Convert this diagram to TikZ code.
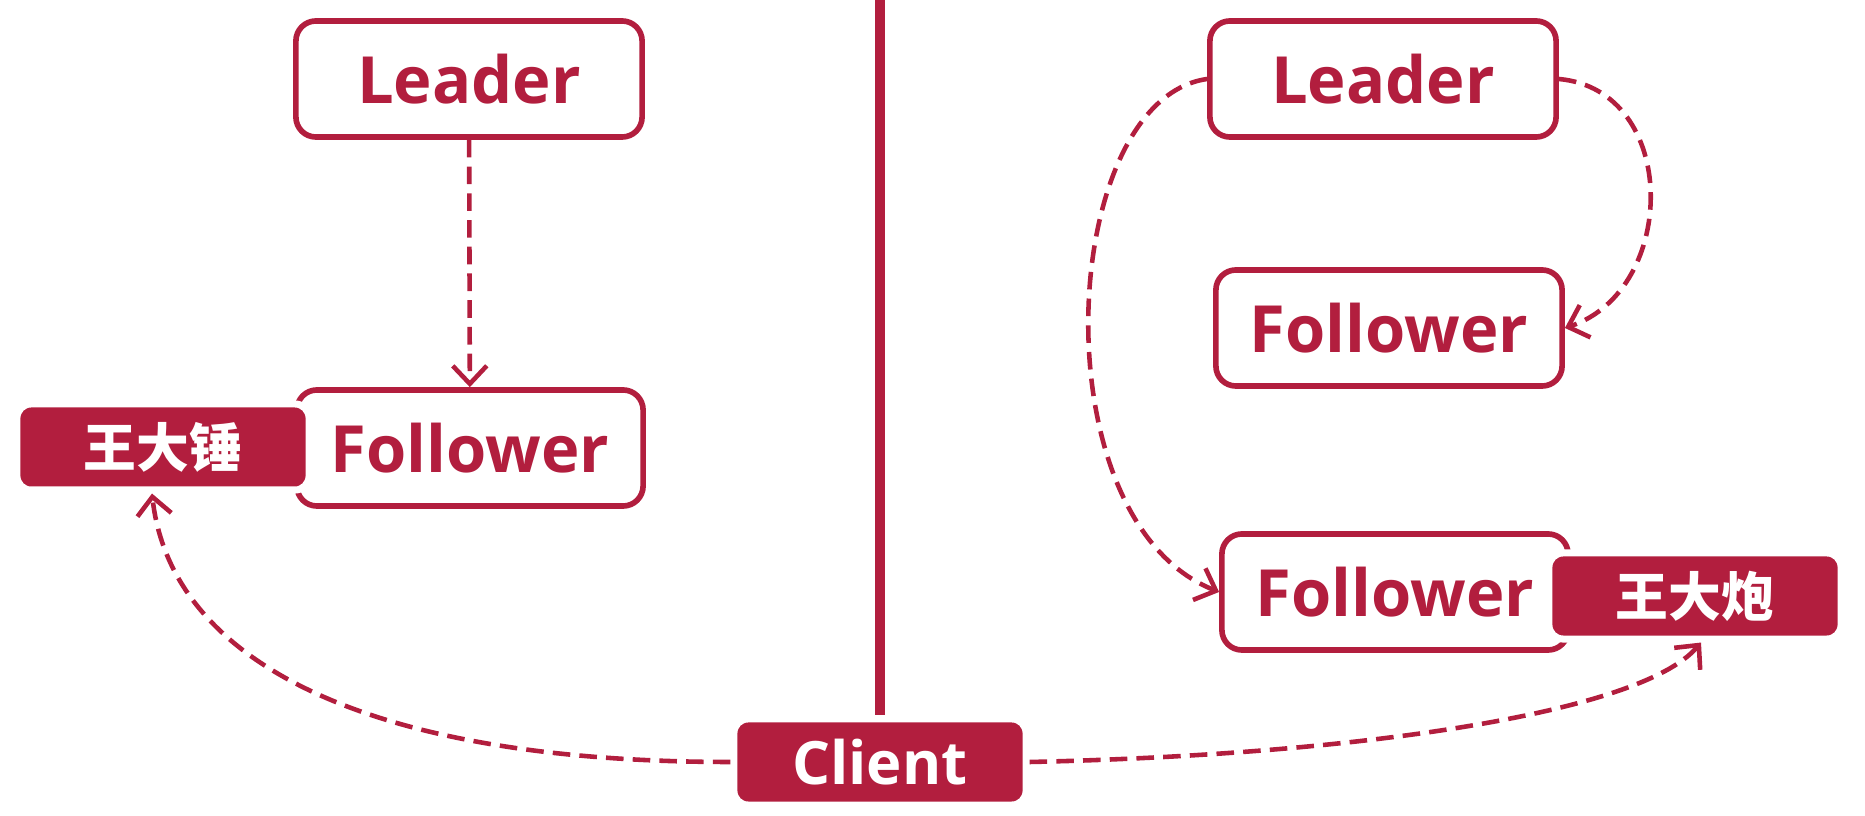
\documentclass[tikz,border=0pt]{standalone}
\usepackage{fontspec}
\setmainfont{Open Sans}
\newfontfamily\cjk{Noto Sans CJK SC}[BoldFont={Noto Sans CJK SC Black}]
\usetikzlibrary{arrows.meta,shadows}
\definecolor{crimson}{RGB}{178,30,62}

\begin{document}
\begin{tikzpicture}[x=0.01cm,y=-0.01cm,
  box/.style={draw=crimson,line width=1.6pt,fill=white,rounded corners=0.2cm,
    minimum width=3.46cm,minimum height=1.16cm,inner sep=0pt,text=crimson,
    font=\fontsize{18.5}{20}\selectfont\bfseries},
  tag/.style={draw=white,line width=2pt,fill=crimson,rounded corners=0.14cm,
    minimum width=2.92cm,minimum height=0.86cm,inner sep=0pt,text=white,
    drop shadow={opacity=0.18,shadow xshift=0.02cm,shadow yshift=-0.02cm}},
  link/.style={crimson,line width=1.3pt,dash pattern=on 5pt off 2.6pt,
    -{Straight Barb[length=1.8mm,width=3.4mm,line width=1.3pt]}}]
  \useasboundingbox (0,0) rectangle (1865,816);

  \node[tag,font=\fontsize{17}{18}\selectfont\bfseries] (client) at (880,762) {Client};
  \coordinate (top) at (client.north |- 0,0);
  \draw[crimson,line width=2.6pt] (top) -- (client.north);
%%% left side
  \node[box] (ldrA) at (469,79) {Leader};
  \node[box] (folA) at (470,448) {Follower};
  \node[tag,font={\cjk\fontsize{15}{16}\selectfont\bfseries}] (tagA) at (163,447) {王大锤};
  \draw[link] (ldrA) -- (folA);
%%% right side
  \node[box] (ldrB) at (1383,79) {Leader};
  \node[box] (folB) at (1389,328) {Follower};
  \node[box] (folC) at (1395,592) {Follower};
  \node[tag,font={\cjk\fontsize{15}{16}\selectfont\bfseries}] (tagB) at (1695,596) {王大炮};
  \draw[link] (ldrB.east) .. controls +(121,11) and +(114,-38) .. (folB.east);
  \draw[link] (ldrB.west) .. controls +(-149,21) and +(-182,-72) .. (folC.west);
%%% client requests
  \draw[link] (client.west) .. controls +(-380,0) and +(18,160) .. ([xshift=-0.11cm]tagA.south);
  \draw[link] (client.east) .. controls +(320,-7) and +(-61,72) .. ([xshift=0.06cm]tagB.south);
\end{tikzpicture}
\end{document}
